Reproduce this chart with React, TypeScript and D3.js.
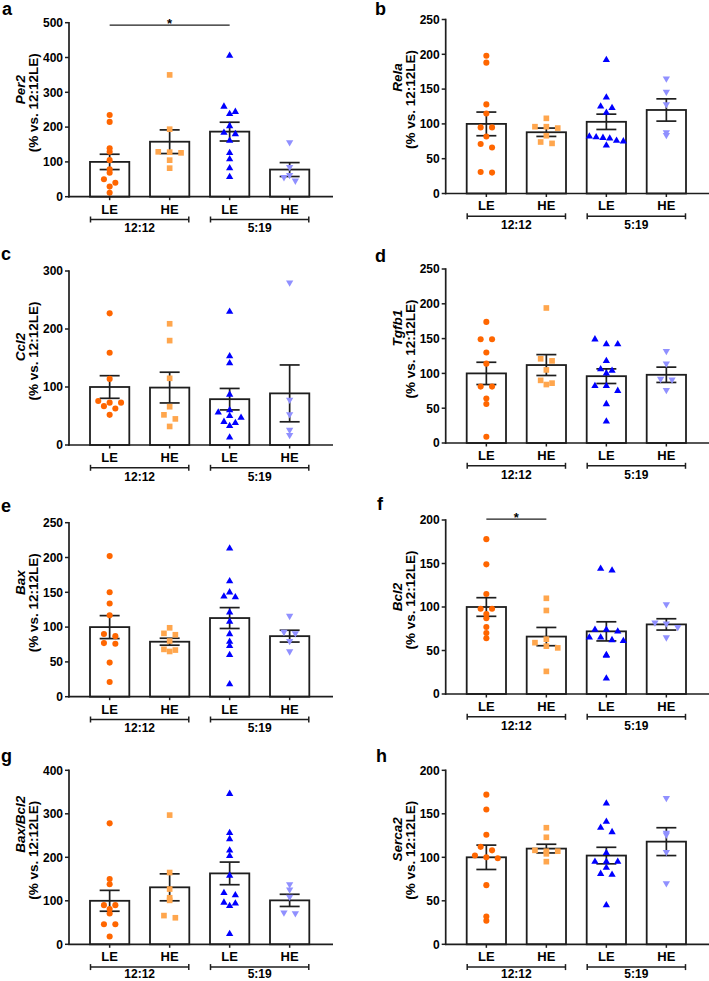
import React from 'react';
import * as d3 from 'd3';

// ---------- data ----------
const categories = ['LE', 'HE', 'LE', 'HE'];
const groupLabels = ['12:12', '5:19'];
const panelLetters = ['a', 'b', 'c', 'd', 'e', 'f', 'g', 'h'];
const genes = ['Per2', 'Rela', 'Ccl2', 'Tgfb1', 'Bax', 'Bcl2', 'Bax/Bcl2', 'Serca2'];
const yUnit = '(% vs. 12:12LE)';
const yMax = [500, 250, 300, 250, 250, 200, 400, 200];
const yStep = [100, 50, 100, 50, 50, 50, 100, 50];

const per2Points = [
  [235, 215, 139, 129, 105, 79, 69, 50, 40, 29, 11],
  [350, 194, 129, 128, 126, 105, 82],
  [405, 259, 244, 238, 203, 184, 180, 161, 126, 108, 82, 57],
  [156, 85, 62, 56, 46],
];
const per2Mean = [100, 158, 187, 78];
const per2Sem = [22, 34, 27, 20];

const relaPoints = [
  [198, 188, 128, 115, 95, 95, 82, 71, 66, 31, 30],
  [108, 96, 96, 94, 83, 74, 72],
  [192, 138, 125, 123, 116, 82, 81, 80, 79, 76, 75, 69],
  [165, 146, 128, 88, 84],
];
const relaMean = [100, 88, 103, 120];
const relaSem = [17, 6, 11, 16];

const ccl2Points = [
  [227, 159, 114, 76, 73, 73, 67, 63, 52],
  [209, 180, 115, 66, 52, 45, 32],
  [230, 153, 141, 87, 60, 56, 50, 47, 40, 38, 33, 13],
  [280, 78, 53, 26, 17],
];
const ccl2Mean = [100, 99, 79, 89];
const ccl2Sem = [19.5, 26.5, 18.5, 49];

const tgfb1Points = [
  [174, 149, 149, 130, 114, 81, 81, 64, 56, 9],
  [194, 121, 118, 105, 90, 86, 84],
  [149, 142, 142, 118, 106, 104, 100, 82, 82, 75, 56, 31],
  [132, 114, 92, 91, 76],
];
const tgfb1Mean = [100, 112, 96, 98];
const tgfb1Sem = [16, 15, 10.5, 11];

const baxPoints = [
  [202, 150, 134, 117, 90, 87, 77, 76, 49, 21],
  [99, 91, 89, 80, 68, 67, 65],
  [213, 166, 150, 144, 143, 121, 108, 90, 79, 73, 60, 18],
  [116, 93, 91, 80, 65],
];
const baxMean = [100, 79, 113, 87];
const baxSem = [16.5, 5, 15, 8.5];

const bcl2Points = [
  [178, 149, 115, 98, 98, 92, 87, 77, 70, 64],
  [110, 96, 63, 59, 55, 53, 26],
  [144, 142, 74, 74, 72, 65, 65, 62, 61, 45, 44, 18],
  [103, 82, 81, 77, 65],
];
const bcl2Mean = [100, 66, 72, 80];
const bcl2Sem = [10.7, 10.5, 11, 6.5];

const ratioPoints = [
  [278, 150, 138, 90, 90, 81, 71, 46, 46, 18],
  [297, 165, 127, 107, 101, 66, 61],
  [346, 256, 242, 216, 203, 158, 118, 113, 96, 94, 88, 24],
  [138, 126, 109, 73, 71],
];
const ratioMean = [100, 131, 163, 101];
const ratioSem = [24, 31, 26, 14];

const serca2Points = [
  [172, 155, 126, 112, 108, 102, 100, 99, 68, 32, 27],
  [134, 123, 108, 107, 107, 104, 95],
  [162, 141, 134, 129, 105, 95, 95, 95, 88, 81, 80, 45],
  [168, 128, 126, 106, 70],
];
const serca2Mean = [100, 110, 102, 118];
const serca2Sem = [14, 5, 9.5, 16];

// significance brackets: panel index, from bar, to bar, y value
const sigPanel = [0, 5];
const sigFrom = [0, 0];
const sigTo = [2, 1];
const sigValue = [493, 201];

const allPoints = [per2Points, relaPoints, ccl2Points, tgfb1Points, baxPoints, bcl2Points, ratioPoints, serca2Points];
const allMeans = [per2Mean, relaMean, ccl2Mean, tgfb1Mean, baxMean, bcl2Mean, ratioMean, serca2Mean];
const allSems = [per2Sem, relaSem, ccl2Sem, tgfb1Sem, baxSem, bcl2Sem, ratioSem, serca2Sem];

// ---------- layout ----------
const W = 709;
const H = 981;
const colAxisX = [69, 445.7];
const panelY0 = [196.7, 193.5, 445, 443, 696.7, 694, 944.3, 944.3];
const plotH = 174;
const letterPos = [[2, 15], [375, 15], [1, 260], [375, 261.5], [1, 511.5], [377, 510], [1, 762], [376, 762]];
const line1Offset = [-20, -29, -11, -28, -27, -10, -33, -18];
const line2Offset = -7;

const markerColors = ['#ff6600', '#ffa64d', '#0000ff', '#9090ff'];
const FONT = "'Liberation Sans', Arial, Helvetica, sans-serif";
const INK = '#1e1e1e';

const symbols = [
  d3.symbol().type(d3.symbolCircle).size(29)(),
  d3.symbol().type(d3.symbolSquare).size(32)(),
  d3.symbol().type(d3.symbolTriangle).size(23)(),
  d3.symbol().type(d3.symbolTriangle).size(23)(),
];

function swarm(values: number[], y: d3.ScaleLinear<number, number>, cx: number) {
  const binH = 6.5;
  const base = y(0);
  const items = values.map((v, i) => ({ v, i }));
  const bins = d3.group(items, (d) => Math.floor((base - y(d.v)) / binH));
  const out: { v: number; x: number; y: number }[] = [];
  for (const [, arr] of bins) {
    const n = arr.length;
    const sp = n > 1 ? Math.min(11.4, 34 / (n - 1)) : 0;
    arr.forEach((d, k) => out.push({ v: d.v, x: cx + (k - (n - 1) / 2) * sp, y: y(d.v) }));
  }
  return out;
}

function Panel({ idx }: { idx: number }) {
  const ax = colAxisX[idx % 2];
  const y0 = panelY0[idx];
  const y = d3.scaleLinear().domain([0, yMax[idx]]).range([y0, y0 - plotH]);
  const x = d3
    .scaleBand<number>()
    .domain(d3.range(4))
    .range([ax + 10.65, ax + 250.65])
    .paddingInner(0.345)
    .paddingOuter(0.1725);
  const bw = x.bandwidth();
  const ticks = d3.range(0, yMax[idx] + 0.001, yStep[idx]);
  const means = allMeans[idx];
  const sems = allSems[idx];
  const pts = allPoints[idx];
  const midY = y0 - plotH / 2;
  const capW = 10;
  const groupBase = Math.min(y0 + 35.5, 978);

  return (
    <g>
      {/* panel letter */}
      <text x={letterPos[idx][0]} y={letterPos[idx][1]} fontFamily={FONT} fontWeight="bold" fontSize={18} fill="#000">
        {panelLetters[idx]}
      </text>
      {/* y title */}
      <text
        transform={`translate(${ax - 44},${midY + line1Offset[idx]}) rotate(-90)`}
        textAnchor="middle"
        fontFamily={FONT}
        fontWeight="bold"
        fontStyle="italic"
        fontSize={13.5}
        fill="#000"
      >
        {genes[idx]}
      </text>
      <text
        transform={`translate(${ax - 31},${midY + line2Offset}) rotate(-90)`}
        textAnchor="middle"
        fontFamily={FONT}
        fontWeight="bold"
        fontSize={13.5}
        fill="#000"
      >
        {yUnit}
      </text>
      {/* bars */}
      {means.map((m, i) => (
        <rect
          key={'b' + i}
          x={x(i)!}
          y={y(m)}
          width={bw}
          height={y0 - y(m)}
          fill="#fff"
          stroke={INK}
          strokeWidth={1.8}
        />
      ))}
      {/* error bars */}
      {means.map((m, i) => {
        const cx = x(i)! + bw / 2;
        const hi = y(m + sems[i]);
        const lo = y(m - sems[i]);
        return (
          <g key={'e' + i} stroke={INK} strokeWidth={1.7}>
            <line x1={cx} x2={cx} y1={hi} y2={lo} />
            <line x1={cx - capW} x2={cx + capW} y1={hi} y2={hi} />
            <line x1={cx - capW} x2={cx + capW} y1={lo} y2={lo} />
          </g>
        );
      })}
      {/* points */}
      {pts.map((vals, gi) => {
        const cx = x(gi)! + bw / 2;
        return swarm(vals, y, cx).map((p, k) => (
          <path
            key={`p${gi}-${k}`}
            d={symbols[gi]!}
            transform={`translate(${p.x},${p.y})${gi === 3 ? ' rotate(180)' : ''}`}
            fill={markerColors[gi]}
          />
        ));
      })}
      {/* axes */}
      <line x1={ax} x2={ax} y1={y(yMax[idx]) - 0.8} y2={y0 + 0.8} stroke={INK} strokeWidth={1.7} />
      <line x1={ax - 0.8} x2={ax + 264} y1={y0} y2={y0} stroke={INK} strokeWidth={1.7} />
      {ticks.map((t) => (
        <g key={'t' + t}>
          <line x1={ax - 4} x2={ax} y1={y(t)} y2={y(t)} stroke={INK} strokeWidth={1.5} />
          <text
            x={ax - 6}
            y={y(t) + 4.3}
            textAnchor="end"
            fontFamily={FONT}
            fontWeight="bold"
            fontSize={12}
            fill="#000"
          >
            {t}
          </text>
        </g>
      ))}
      {categories.map((c, i) => {
        const cx = x(i)! + bw / 2;
        return (
          <g key={'c' + i}>
            <line x1={cx} x2={cx} y1={y0} y2={y0 + 3.5} stroke={INK} strokeWidth={1.5} />
            <text x={cx} y={y0 + 16.8} textAnchor="middle" fontFamily={FONT} fontWeight="bold" fontSize={13} fill="#000">
              {c}
            </text>
          </g>
        );
      })}
      {groupLabels.map((g, gi) => {
        const xl = x(gi * 2)! + 0.5;
        const xr = x(gi * 2 + 1)! + bw - 0.5;
        const gy = y0 + 22.8;
        return (
          <g key={'g' + gi}>
            <line x1={xl} x2={xr} y1={gy} y2={gy} stroke={INK} strokeWidth={1.5} />
            <line x1={xl} x2={xl} y1={gy - 3} y2={gy + 3} stroke={INK} strokeWidth={1.5} />
            <line x1={xr} x2={xr} y1={gy - 3} y2={gy + 3} stroke={INK} strokeWidth={1.5} />
            <text
              x={(xl + xr) / 2}
              y={groupBase}
              textAnchor="middle"
              fontFamily={FONT}
              fontWeight="bold"
              fontSize={12}
              fill="#000"
            >
              {g}
            </text>
          </g>
        );
      })}
      {/* significance */}
      {sigPanel.map((p, si) => {
        if (p !== idx) return null;
        const xa = x(sigFrom[si])! + bw / 2;
        const xb = x(sigTo[si])! + bw / 2;
        const sy = y(sigValue[si]);
        return (
          <g key={'s' + si}>
            <line x1={xa} x2={xb} y1={sy} y2={sy} stroke={INK} strokeWidth={1.4} />
            <text x={(xa + xb) / 2} y={sy + 3} textAnchor="middle" fontFamily={FONT} fontWeight="bold" fontSize={13} fill="#000">
              *
            </text>
          </g>
        );
      })}
    </g>
  );
}

export default function App() {
  return (
    <svg
      width={W}
      height={H}
      viewBox={`0 0 ${W} ${H}`}
      style={{ position: 'absolute', left: 0, top: 0, display: 'block', background: '#fff' }}
    >
      <rect width={W} height={H} fill="#fff" />
      {genes.map((_, i) => (
        <Panel key={i} idx={i} />
      ))}
    </svg>
  );
}
